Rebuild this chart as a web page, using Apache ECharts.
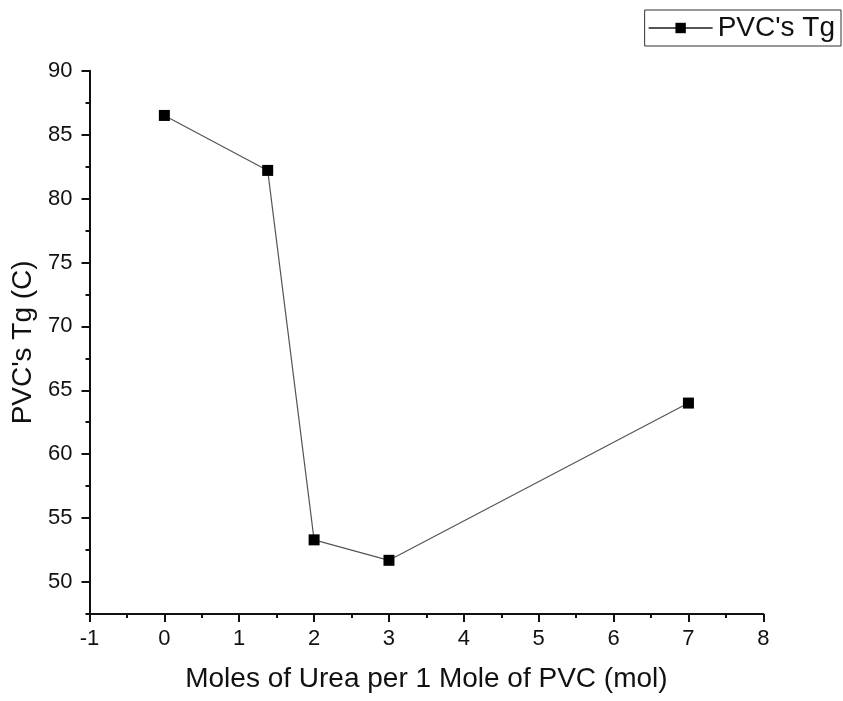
<!DOCTYPE html>
<html>
<head>
<meta charset="utf-8">
<script src="https://cdn.jsdelivr.net/npm/echarts@6/dist/echarts.min.js"></script>
<style>
  html, body { margin: 0; padding: 0; background: #fff; }
  #chart { width: 843px; height: 701px; }
</style>
</head>
<body>
<div id="chart"></div>
<script>
// Glass transition temperature of PVC versus urea loading
const ureaMoles = [0, 1.38, 2, 3, 7];
const tgValues = [86.5, 82.2, 53.3, 51.7, 64.0];
const yMajorTicks = [50, 55, 60, 65, 70, 75, 80, 85, 90];
const seriesName = "PVC's Tg";
const xTitle = 'Moles of Urea per 1 Mole of PVC (mol)';
const yTitle = "PVC's Tg (C)";

const FONT = '"Liberation Sans", Arial, sans-serif';
const INK = '#111';

const chart = echarts.init(document.getElementById('chart'), null, { renderer: 'canvas' });

chart.setOption({
  backgroundColor: '#fff',
  animation: false,
  grid: { left: 89.5, right: 79.7, top: 70.7, bottom: 87, containLabel: false },
  legend: {
    right: 2, top: 10,
    padding: [4, 6, 4, 3],
    itemWidth: 64, itemHeight: 13,
    borderColor: '#333', borderWidth: 1,
    textStyle: { fontFamily: FONT, fontSize: 28, color: INK },
    data: [seriesName]
  },
  xAxis: {
    type: 'value',
    min: -1, max: 8, interval: 1,
    name: xTitle, nameLocation: 'middle', nameGap: 51,
    nameTextStyle: { fontFamily: FONT, fontSize: 28, color: INK },
    axisLine: { onZero: false, lineStyle: { color: INK, width: 2 } },
    axisTick: { length: 8, lineStyle: { color: INK, width: 2 } },
    minorTick: { show: true, splitNumber: 2, length: 4, lineStyle: { color: INK, width: 2 } },
    axisLabel: { fontFamily: FONT, fontSize: 22, color: INK, margin: 14 },
    splitLine: { show: false }
  },
  yAxis: [
    {
      type: 'value',
      min: 47.5, max: 90,
      name: yTitle, nameLocation: 'middle', nameGap: 50,
      nameTextStyle: { fontFamily: FONT, fontSize: 28, color: INK },
      axisLine: { show: true, onZero: false, lineStyle: { color: INK, width: 2 } },
      axisTick: { show: true, length: 8, customValues: yMajorTicks, lineStyle: { color: INK, width: 2 } },
      axisLabel: { customValues: yMajorTicks, fontFamily: FONT, fontSize: 22, color: INK, margin: 17 },
      splitLine: { show: false }
    },
    {
      // minor ticks every 2.5 along the left axis
      type: 'value',
      min: 47.5, max: 90, interval: 2.5,
      position: 'left',
      axisLine: { show: false, onZero: false },
      axisTick: { show: true, length: 4, lineStyle: { color: INK, width: 2 } },
      axisLabel: { show: false },
      splitLine: { show: false }
    }
  ],
  series: [{
    name: seriesName,
    type: 'line',
    yAxisIndex: 0,
    data: ureaMoles.map((x, i) => [x, tgValues[i]]),
    symbol: 'rect',
    symbolSize: 11,
    itemStyle: { color: '#000' },
    lineStyle: { color: '#555', width: 1.2 }
  }]
});
</script>
</body>
</html>
